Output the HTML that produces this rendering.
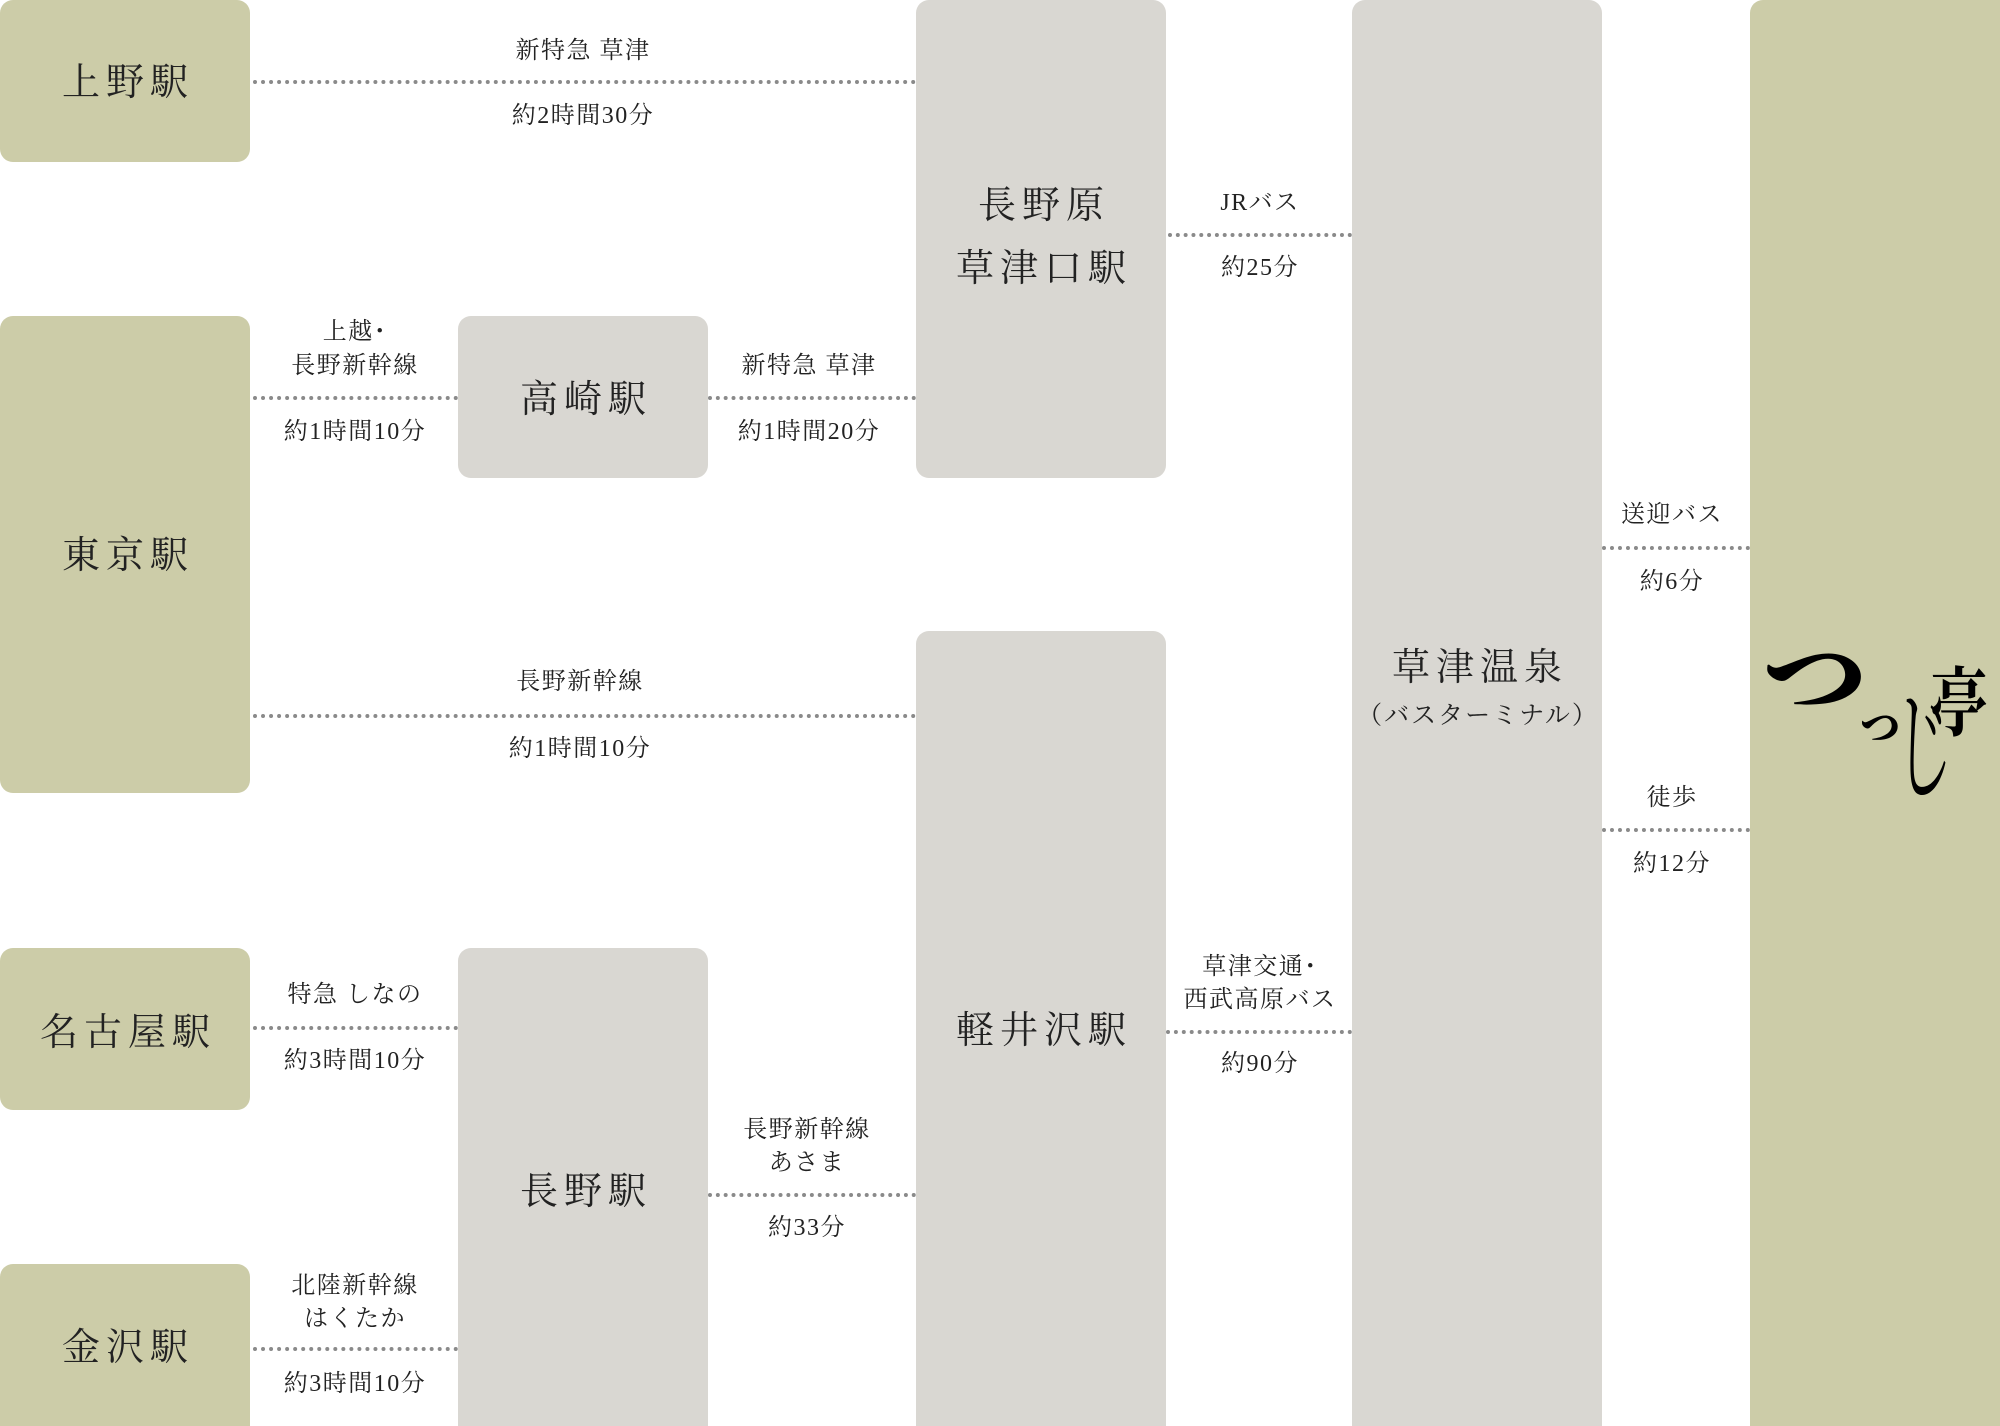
<!DOCTYPE html>
<html><head><meta charset="utf-8"><style>
html,body{margin:0;width:2000px;height:1426px;overflow:hidden}
body{position:relative;background:#fff;font-family:"Liberation Serif","Noto Serif CJK SC","Noto Serif CJK JP",serif;color:#222}
.b{position:absolute;border-radius:13px}
.g{background:#cccca8}.s{background:#d9d7d2}
.bt{position:absolute;transform:translate(-50%,-50%);font-size:38px;letter-spacing:6px;padding-left:6px;white-space:nowrap;line-height:1}
.l{position:absolute;height:0;border-top:4px dotted #8a8a8a}
.t{position:absolute;transform:translate(-50%,-50%);font-size:24px;white-space:nowrap;letter-spacing:1.5px;line-height:1}
</style></head><body>
<div class="b g" style="left:0;top:0;width:250px;height:162px"></div>
<div class="b g" style="left:0;top:316px;width:250px;height:477px"></div>
<div class="b g" style="left:0;top:948px;width:250px;height:162px"></div>
<div class="b g" style="left:0;top:1264px;width:250px;height:162px;border-radius:13px 13px 0 0"></div>
<div class="b s" style="left:458px;top:316px;width:250px;height:162px"></div>
<div class="b s" style="left:458px;top:948px;width:250px;height:478px;border-radius:13px 13px 0 0"></div>
<div class="b s" style="left:916px;top:0;width:250px;height:478px"></div>
<div class="b s" style="left:916px;top:631px;width:250px;height:795px;border-radius:13px 13px 0 0"></div>
<div class="b s" style="left:1352px;top:0;width:250px;height:1426px;border-radius:13px 13px 0 0"></div>
<div class="b g" style="left:1750px;top:0;width:250px;height:1426px;border-radius:13px 0 0 0"></div>

<div class="bt" style="left:125px;top:83px">上野駅</div>
<div class="bt" style="left:125px;top:556px">東京駅</div>
<div class="bt" style="left:125px;top:1033px">名古屋駅</div>
<div class="bt" style="left:125px;top:1348px">金沢駅</div>
<div class="bt" style="left:583px;top:400px">高崎駅</div>
<div class="bt" style="left:583px;top:1192px">長野駅</div>
<div class="bt" style="left:1041px;top:206px">長野原</div>
<div class="bt" style="left:1041px;top:269px">草津口駅</div>
<div class="bt" style="left:1041px;top:1031px">軽井沢駅</div>
<div class="bt" style="left:1477px;top:668px">草津温泉</div>
<div class="bt" style="left:1477px;top:716px;font-size:25px;letter-spacing:2px;padding-left:2px">（バスターミナル）</div>

<div style="position:absolute;left:0;top:0;color:#000;font-family:'Noto Serif CJK JP',serif;line-height:1">
<span style="position:absolute;left:1762px;top:630px;font-size:105px;font-weight:900;transform:scaleY(.8);transform-origin:top">つ</span>
<span style="position:absolute;left:1860px;top:705px;font-size:40px;font-weight:900">つ</span>
<span style="position:absolute;left:1895px;top:676px;font-size:58px;transform:scaleY(2.1);transform-origin:top">じ</span>
<span style="position:absolute;left:1930px;top:660px;font-size:58px;font-weight:700;transform:scaleY(1.3);transform-origin:top">亭</span>
</div>

<div class="l" style="left:253px;width:663px;top:80px"></div>
<div class="t" style="left:583px;top:51px">新特急 草津</div>
<div class="t" style="left:583px;top:116px">約2時間30分</div>

<div class="l" style="left:253px;width:205px;top:396px"></div>
<div class="t" style="left:355px;top:332px">上越･</div>
<div class="t" style="left:355px;top:366px">長野新幹線</div>
<div class="t" style="left:355px;top:432px">約1時間10分</div>

<div class="l" style="left:708px;width:208px;top:396px"></div>
<div class="t" style="left:809px;top:366px">新特急 草津</div>
<div class="t" style="left:809px;top:432px">約1時間20分</div>

<div class="l" style="left:1168px;width:184px;top:233px"></div>
<div class="t" style="left:1260px;top:203px">JRバス</div>
<div class="t" style="left:1260px;top:268px">約25分</div>

<div class="l" style="left:253px;width:663px;top:714px"></div>
<div class="t" style="left:580px;top:682px">長野新幹線</div>
<div class="t" style="left:580px;top:749px">約1時間10分</div>

<div class="l" style="left:253px;width:205px;top:1026px"></div>
<div class="t" style="left:355px;top:995px">特急 しなの</div>
<div class="t" style="left:355px;top:1061px">約3時間10分</div>

<div class="l" style="left:253px;width:205px;top:1347px"></div>
<div class="t" style="left:355px;top:1286px">北陸新幹線</div>
<div class="t" style="left:355px;top:1319px">はくたか</div>
<div class="t" style="left:355px;top:1384px">約3時間10分</div>

<div class="l" style="left:708px;width:208px;top:1193px"></div>
<div class="t" style="left:807px;top:1130px">長野新幹線</div>
<div class="t" style="left:807px;top:1163px">あさま</div>
<div class="t" style="left:807px;top:1228px">約33分</div>

<div class="l" style="left:1166px;width:186px;top:1030px"></div>
<div class="t" style="left:1260px;top:967px">草津交通･</div>
<div class="t" style="left:1260px;top:1000px">西武高原バス</div>
<div class="t" style="left:1260px;top:1064px">約90分</div>

<div class="l" style="left:1602px;width:148px;top:546px"></div>
<div class="t" style="left:1672px;top:515px">送迎バス</div>
<div class="t" style="left:1672px;top:582px">約6分</div>

<div class="l" style="left:1602px;width:148px;top:828px"></div>
<div class="t" style="left:1672px;top:798px">徒歩</div>
<div class="t" style="left:1672px;top:864px">約12分</div>
</body></html>
